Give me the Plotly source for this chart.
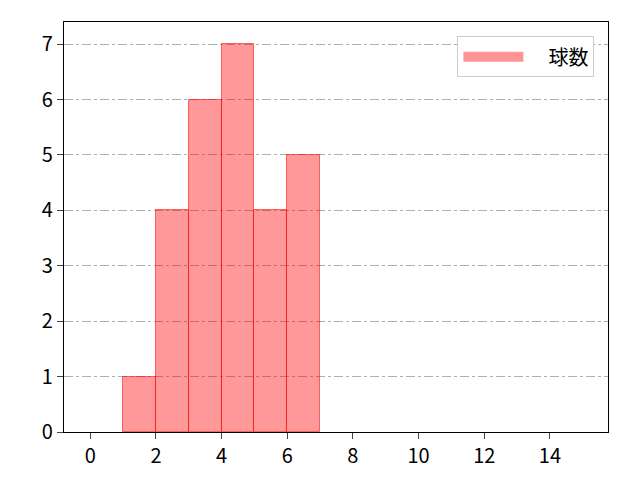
import plotly.graph_objects as go

bin_left = [1, 2, 3, 4, 5, 6]
counts = [1, 4, 6, 7, 4, 5]
x_ticks = [0, 2, 4, 6, 8, 10, 12, 14]
y_ticks = [0, 1, 2, 3, 4, 5, 6, 7]
series_name = "球数"

centers = [b + 0.5 for b in bin_left]

fig = go.Figure()
fig.add_trace(go.Bar(
    x=centers, y=counts, width=[1] * len(counts), name=series_name,
    marker=dict(color="rgba(255,0,0,0.4)", line=dict(color="rgba(255,0,0,0.55)", width=1)),
    showlegend=False,
))
# legend-only entry drawn as a wide patch
fig.add_trace(go.Scatter(
    x=[None], y=[None], mode="lines", name="\u2003" + series_name,
    line=dict(color="rgba(255,0,0,0.42)", width=16),
    showlegend=True, hoverinfo="skip",
))

font = "Noto Sans CJK JP, DejaVu Sans, sans-serif"
# page body has an 8px margin: shrink figure and margins to compensate
fig.update_layout(
    width=632, height=472,
    margin=dict(l=56, r=32, t=14, b=48),
    paper_bgcolor="white", plot_bgcolor="white",
    font=dict(family=font, size=20, color="black"),
    bargap=0,
    legend=dict(x=0.975, y=0.965, xanchor="right", yanchor="top",
                bordercolor="#cccccc", borderwidth=1, bgcolor="white",
                font=dict(size=20), itemwidth=60),
    xaxis=dict(range=[-0.8, 15.77], tickvals=x_ticks, ticks="outside", ticklen=6,
               showline=True, linecolor="black", linewidth=1.2, mirror=True,
               showgrid=False, zeroline=False, tickfont=dict(size=20)),
    yaxis=dict(range=[0, 7.4], tickvals=y_ticks, ticks="outside", ticklen=6,
               showline=True, linecolor="black", linewidth=1.2, mirror=True,
               showgrid=True, gridcolor="#b0b0b0", gridwidth=0.8, griddash="dashdot",
               zeroline=False, tickfont=dict(size=20)),
)
fig.write_html("out.html")
